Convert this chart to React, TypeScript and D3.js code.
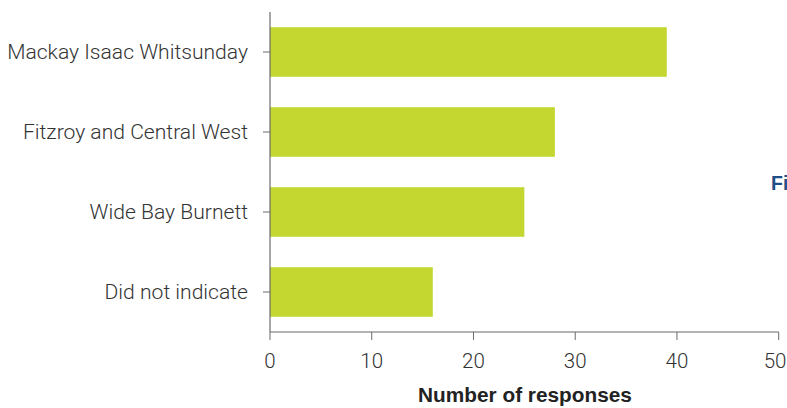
import React from "react";
import * as d3 from "d3";

const categories = [
  "Mackay Isaac Whitsunday",
  "Fitzroy and Central West",
  "Wide Bay Burnett",
  "Did not indicate",
];
const responses = [39, 28, 25, 16];
const xTicks = [0, 10, 20, 30, 40, 50];
const xTitle = "Number of responses";

const W = 787;
const H = 408;
const LIGHT = "Roboto, 'Liberation Sans', Arial, sans-serif";
const BOLD = "'Liberation Sans', Arial, Helvetica, sans-serif";

export default function App() {
  const x = d3.scaleLinear().domain([0, 50]).range([270, 778.7]);
  const y = d3
    .scaleBand<string>()
    .domain(categories)
    .range([12, 332])
    .paddingInner(0.38)
    .paddingOuter(0.19);

  const axisColor = "#6b6b6b";
  const textColor = "#333333";
  const lastTick = xTicks[xTicks.length - 1];

  return (
    <svg
      width={W}
      height={H}
      style={{ position: "absolute", left: 0, top: 0, overflow: "hidden", background: "#fff" }}
    >
      {/* bars */}
      {categories.map((c, i) => (
        <rect
          key={c}
          x={x(0)}
          y={y(c)!}
          width={x(responses[i]) - x(0)}
          height={y.bandwidth()}
          fill="#c3d730"
        />
      ))}

      {/* y axis */}
      <line x1={x(0)} x2={x(0)} y1={12} y2={332} stroke={axisColor} strokeWidth={1.2} />
      {categories.map((c) => {
        const cy = y(c)! + y.bandwidth() / 2;
        return (
          <g key={c}>
            <line x1={x(0) - 7} x2={x(0)} y1={cy} y2={cy} stroke={axisColor} strokeWidth={1} />
            <text
              x={x(0) - 22}
              y={cy}
              dy="0.35em"
              textAnchor="end"
              fontFamily={LIGHT}
              fontWeight={300}
              fontSize={21.1}
              fill={textColor}
            >
              {c}
            </text>
          </g>
        );
      })}

      {/* x axis */}
      <line x1={x(0)} x2={x(lastTick)} y1={332} y2={332} stroke={axisColor} strokeWidth={1.2} />
      {xTicks.map((t) => (
        <g key={t}>
          <line x1={x(t)} x2={x(t)} y1={332} y2={340} stroke={axisColor} strokeWidth={1} />
          <text
            x={t === lastTick ? W - 0.5 : x(t)}
            y={368}
            textAnchor={t === lastTick ? "end" : "middle"}
            fontFamily={LIGHT}
            fontWeight={300}
            fontSize={20.5}
            fill={textColor}
          >
            {t}
          </text>
        </g>
      ))}
      <text
        x={525}
        y={402}
        textAnchor="middle"
        fontFamily={BOLD}
        fontSize={20.8}
        fontWeight="bold"
        fill="#222"
      >
        {xTitle}
      </text>

      {/* caption fragment at the right edge */}
      <text x={771} y={190} fontFamily={BOLD} fontSize={19.5} fontWeight="bold" fill="#1f4e87">
        Fi
      </text>
    </svg>
  );
}
